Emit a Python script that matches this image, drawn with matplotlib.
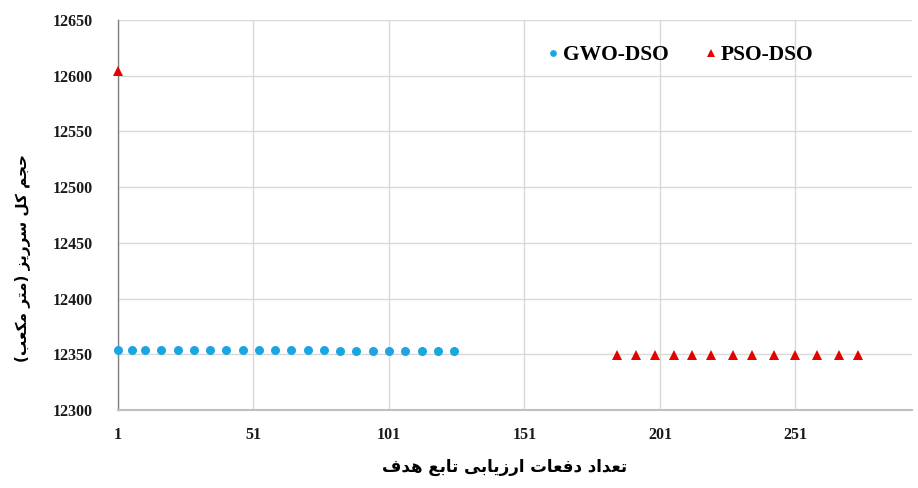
import matplotlib
matplotlib.use("Agg")
import matplotlib.pyplot as plt

# ---------------- data ----------------
gwo_x = [1, 6, 11, 17, 23, 29, 35, 41, 47, 53, 59, 65, 71, 77, 83, 89, 95, 101, 107, 113, 119, 125]
gwo_y = [12354, 12354, 12354, 12354, 12354, 12354, 12354, 12354, 12354, 12354, 12354,
         12354, 12354, 12354, 12353, 12353, 12353, 12353, 12353, 12353, 12353, 12353]
pso_x = [1, 185, 192, 199, 206, 213, 220, 228, 235, 243, 251, 259, 267, 274]
pso_y = [12604, 12349, 12349, 12349, 12349, 12349, 12349, 12349, 12349, 12349, 12349, 12349, 12349, 12349]
x_ticks = [1, 51, 101, 151, 201, 251]
y_ticks = [12300, 12350, 12400, 12450, 12500, 12550, 12600, 12650]
series_names = ["GWO-DSO", "PSO-DSO"]
x_label = "تعداد دفعات ارزیابی تابع هدف"
y_label = "حجم کل سرریز (متر مکعب)"

# ---------------- simple Persian shaping ----------------
FORMS = {  # iso, fin, ini, med
    'ا': ('\uFE8D', '\uFE8E', None, None),
    'ب': ('\uFE8F', '\uFE90', '\uFE91', '\uFE92'),
    'ت': ('\uFE95', '\uFE96', '\uFE97', '\uFE98'),
    'ج': ('\uFE9D', '\uFE9E', '\uFE9F', '\uFEA0'),
    'ح': ('\uFEA1', '\uFEA2', '\uFEA3', '\uFEA4'),
    'د': ('\uFEA9', '\uFEAA', None, None),
    'ر': ('\uFEAD', '\uFEAE', None, None),
    'ز': ('\uFEAF', '\uFEB0', None, None),
    'س': ('\uFEB1', '\uFEB2', '\uFEB3', '\uFEB4'),
    'ع': ('\uFEC9', '\uFECA', '\uFECB', '\uFECC'),
    'ف': ('\uFED1', '\uFED2', '\uFED3', '\uFED4'),
    'ل': ('\uFEDD', '\uFEDE', '\uFEDF', '\uFEE0'),
    'م': ('\uFEE1', '\uFEE2', '\uFEE3', '\uFEE4'),
    'ه': ('\uFEE9', '\uFEEA', '\uFEEB', '\uFEEC'),
    'ی': ('\uFBFC', '\uFBFD', '\uFBFE', '\uFBFF'),
    'ک': ('\uFB8E', '\uFB8F', '\uFB90', '\uFB91'),
}
MIRROR = {'(': ')', ')': '('}


def shape(text):
    out = []
    n = len(text)
    for i, ch in enumerate(text):
        if ch not in FORMS:
            out.append(MIRROR.get(ch, ch))
            continue
        prev = text[i - 1] if i > 0 else None
        nxt = text[i + 1] if i < n - 1 else None
        pc = prev in FORMS and FORMS[prev][2] is not None
        nc = FORMS[ch][2] is not None and nxt in FORMS
        iso, fin, ini, med = FORMS[ch]
        if pc and nc:
            out.append(med)
        elif pc:
            out.append(fin)
        elif nc:
            out.append(ini)
        else:
            out.append(iso)
    return ''.join(reversed(out))


# ---------------- figure ----------------
fig = plt.figure(figsize=(9.18, 4.88), dpi=100)
ax = fig.add_axes([118 / 918, 1 - 410 / 488, (912 - 118) / 918, (410 - 20) / 488])

blue = '#1AA7E1'
red = '#E60000'
ax.plot(gwo_x, gwo_y, linestyle='none', marker='o', markersize=6.5, color=blue,
        markeredgewidth=0, label=series_names[0], zorder=3, clip_on=False)
ax.plot(pso_x, pso_y, linestyle='none', marker='^', markersize=7, color=red,
        markeredgewidth=0, label=series_names[1], zorder=3, clip_on=False)

ax.set_xlim(1, 294)
ax.set_ylim(12300, 12650)
ax.set_xticks(x_ticks)
ax.set_yticks(y_ticks)
ax.grid(True, color='#D9D9D9', linewidth=1)
ax.set_axisbelow(True)
for s in ['top', 'right']:
    ax.spines[s].set_visible(False)
ax.spines['left'].set_color('#808080')
ax.spines['left'].set_linewidth(1)
ax.spines['bottom'].set_color('#BFBFBF')
ax.spines['bottom'].set_linewidth(1.5)
ax.tick_params(axis='both', length=0)
ax.tick_params(axis='y', pad=18)
ax.tick_params(axis='x', pad=12)
for lab in ax.get_xticklabels() + ax.get_yticklabels():
    lab.set_fontfamily('Liberation Serif')
    lab.set_fontweight('bold')
    lab.set_fontsize(11.5)
    lab.set_color('#1a1a1a')

leg = ax.legend(loc='center', bbox_to_anchor=(679 / 918, 1 - 55 / 488),
                bbox_transform=fig.transFigure, ncol=2, frameon=False,
                prop={'family': 'Liberation Serif', 'weight': 'bold', 'size': 15.5},
                handletextpad=0.05, columnspacing=1.6, handlelength=0.8,
                markerscale=0.75)

fig.text(505 / 918, 1 - 467 / 488, shape(x_label), ha='center', va='center',
         fontsize=12, fontweight='bold', family=['DejaVu Sans'])
fig.text(23 / 918, 1 - 258 / 488, shape(y_label), ha='center', va='center',
         rotation=90, fontsize=11, fontweight='bold', family=['DejaVu Sans'])

fig.savefig('out.png', dpi=100)
